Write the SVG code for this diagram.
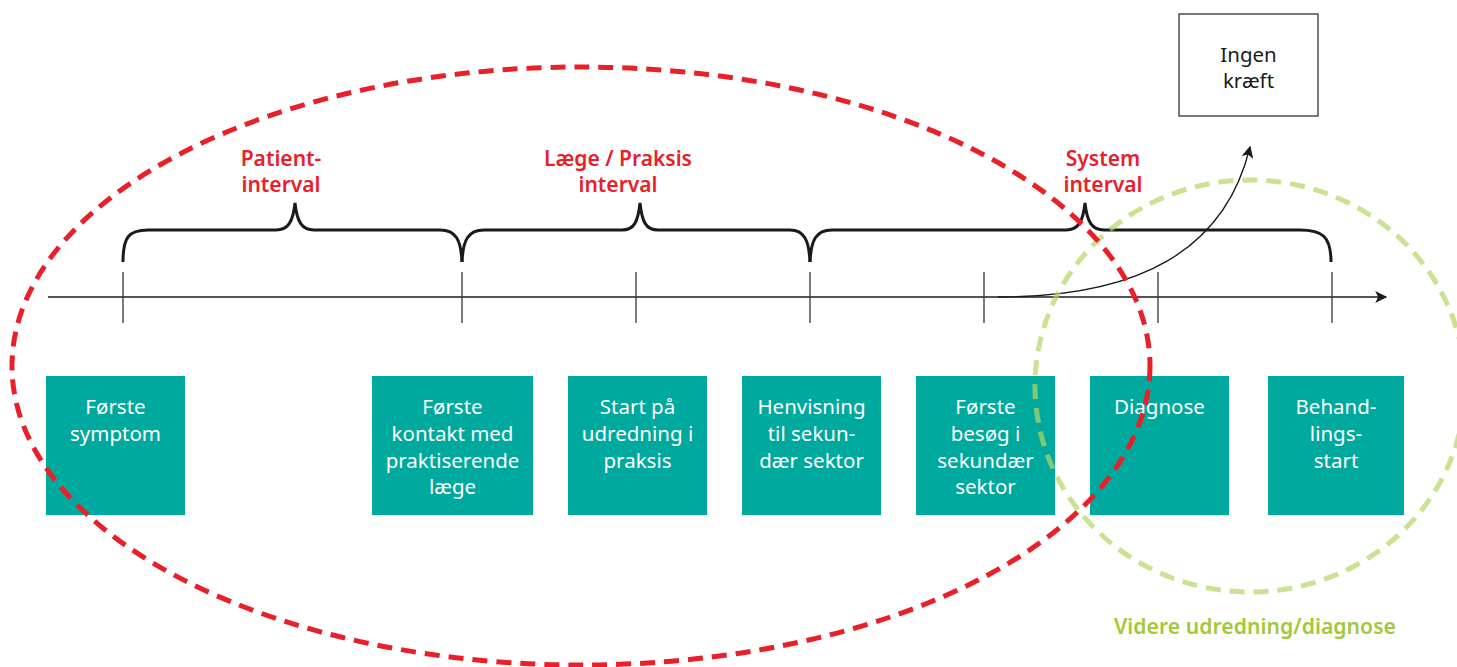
<svg xmlns="http://www.w3.org/2000/svg" width="1457" height="667" viewBox="0 0 1457 667">
  <defs>
    <marker id="arrow" viewBox="0 0 10 10" refX="9" refY="5" markerWidth="16" markerHeight="12" markerUnits="userSpaceOnUse" orient="auto">
      <path d="M0,0 L10,5 L0,10 L2.5,5 Z" fill="#1a1a1a"/>
    </marker>
    <style>
      .step rect { fill: #00a99d; }
      .step text { fill: #ffffff; font-family: "Noto Sans", "Open Sans", sans-serif; font-size: 20.5px; text-anchor: middle; }
      .tick { stroke: #333; stroke-width: 1.3; }
      .brace { fill: none; stroke: #1a1a1a; stroke-width: 3; }
      .label { fill: #e8202a; font-family: "Noto Sans", "Open Sans", sans-serif; font-size: 21px; font-weight: 600; text-anchor: middle; }
    </style>
  </defs>

  <!-- timeline steps -->
  <g id="step-symptom" class="step">
    <rect x="46" y="376" width="139" height="139"/>
    <text x="115.5" y="414">Første<tspan x="115.5" dy="27">symptom</tspan></text>
  </g>
  <g id="step-kontakt" class="step">
    <rect x="372" y="376" width="161" height="139"/>
    <text x="452.5" y="414">Første<tspan x="452.5" dy="27">kontakt med</tspan><tspan x="452.5" dy="26.5">praktiserende</tspan><tspan x="452.5" dy="26.5">læge</tspan></text>
  </g>
  <g id="step-udredning" class="step">
    <rect x="568" y="376" width="139" height="139"/>
    <text x="637.5" y="414">Start på<tspan x="637.5" dy="27">udredning i</tspan><tspan x="637.5" dy="26.5">praksis</tspan></text>
  </g>
  <g id="step-henvisning" class="step">
    <rect x="742" y="376" width="139" height="139"/>
    <text x="811.5" y="414">Henvisning<tspan x="811.5" dy="27">til sekun-</tspan><tspan x="811.5" dy="26.5">dær sektor</tspan></text>
  </g>
  <g id="step-besoeg" class="step">
    <rect x="916" y="376" width="139" height="139"/>
    <text x="985.5" y="414">Første<tspan x="985.5" dy="27">besøg i</tspan><tspan x="985.5" dy="26.5">sekundær</tspan><tspan x="985.5" dy="26.5">sektor</tspan></text>
  </g>
  <g id="step-diagnose" class="step">
    <rect x="1090" y="376" width="139" height="139"/>
    <text x="1159.5" y="414">Diagnose</text>
  </g>
  <g id="step-behandling" class="step">
    <rect x="1268" y="376" width="136" height="139"/>
    <text x="1336" y="414">Behand-<tspan x="1336" dy="27">lings-</tspan><tspan x="1336" dy="26.5">start</tspan></text>
  </g>

  <!-- outcome box -->
  <g id="ingen-kraeft">
    <rect x="1179" y="14" width="139" height="102" fill="#fff" stroke="#333" stroke-width="1.3"/>
    <text x="1248.5" y="62" font-family="Noto Sans, Open Sans, sans-serif" font-size="20.5" fill="#1a1a1a" text-anchor="middle">Ingen<tspan x="1248.5" dy="26">kræft</tspan></text>
  </g>

  <!-- interval braces and labels -->
  <g id="braces">
    <path class="brace" d="M123,262 C123,238 128,230 148,230 L276,230 C288,230 293,222 295,203 C297,222 302,230 314,230 L440,230 C456,230 461,240 462,262"/>
    <path class="brace" d="M462,262 C463,240 468,230 484,230 L622,230 C634,230 638,222 640,203 C642,222 646,230 658,230 L790,230 C804,230 809,240 810,262"/>
    <path class="brace" d="M810,262 C811,240 816,230 832,230 L1066,230 C1078,230 1083,222 1085,203 C1087,222 1092,230 1104,230 L1300,230 C1322,230 1331,236 1331,262"/>
  </g>
  <g id="interval-labels">
    <text class="label" x="281" y="166">Patient-<tspan x="281" dy="26">interval</tspan></text>
    <text class="label" x="618" y="166">Læge / Praksis<tspan x="618" dy="26">interval</tspan></text>
    <text class="label" x="1103" y="166">System<tspan x="1103" dy="26">interval</tspan></text>
  </g>

  <!-- connectors: time axis, ticks and branch to outcome -->
  <g id="connectors">
    <line x1="48" y1="297" x2="1386" y2="297" stroke="#1a1a1a" stroke-width="1.3" marker-end="url(#arrow)"/>
    <line class="tick" x1="123" y1="272" x2="123" y2="323"/>
    <line class="tick" x1="462" y1="272" x2="462" y2="323"/>
    <line class="tick" x1="636" y1="272" x2="636" y2="323"/>
    <line class="tick" x1="810" y1="272" x2="810" y2="323"/>
    <line class="tick" x1="984" y1="272" x2="984" y2="323"/>
    <line class="tick" x1="1158" y1="272" x2="1158" y2="323"/>
    <line class="tick" x1="1332" y1="272" x2="1332" y2="323"/>
    <path d="M998,297 C1140,297 1225,250 1250,147" fill="none" stroke="#1a1a1a" stroke-width="1.3" marker-end="url(#arrow)"/>
  </g>

  <!-- grouping ellipses -->
  <g id="grupper">
    <ellipse cx="1250" cy="386" rx="215" ry="206" fill="none" stroke="#b5d665" stroke-opacity="0.7" stroke-width="5" stroke-dasharray="15 9"/>
    <ellipse cx="581" cy="366" rx="569" ry="299" fill="none" stroke="#e8202a" stroke-width="5" stroke-dasharray="15 9"/>
    <text x="1255" y="634" font-family="Noto Sans, Open Sans, sans-serif" font-size="21.2" font-weight="600" fill="#a3c93a" text-anchor="middle">Videre udredning/diagnose</text>
  </g>
</svg>
